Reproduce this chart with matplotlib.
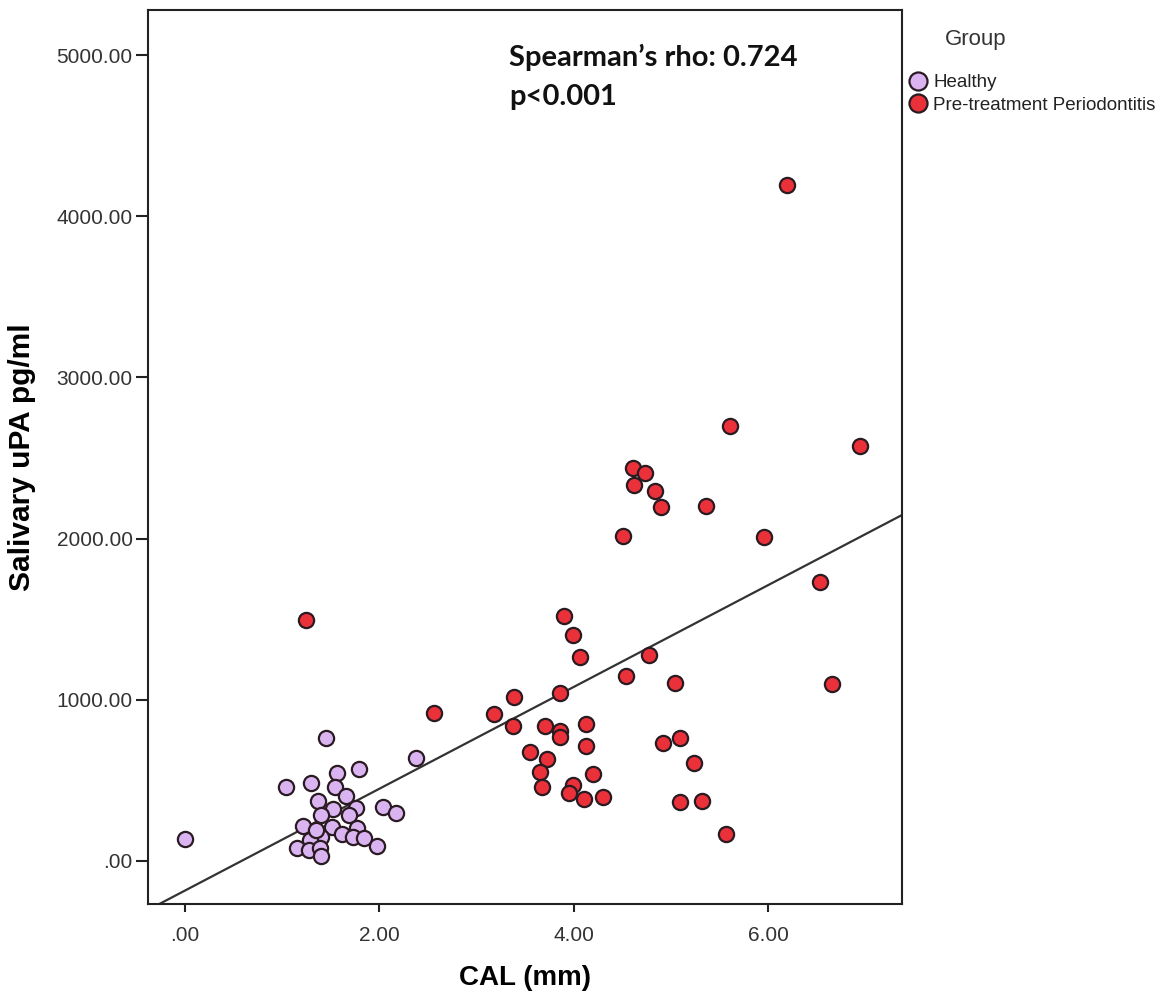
import numpy as np
import matplotlib
matplotlib.use("Agg")
import matplotlib.pyplot as plt
from matplotlib.lines import Line2D

# Clinical attachment level (mm) and salivary uPA (pg/ml) per subject
healthy_cal = [1.45, 2.38, 1.56, 1.79, 1.04, 1.30, 1.54, 1.66, 1.37, 1.76,
               1.52, 2.04, 2.17, 1.40, 1.69, 1.21, 1.51, 1.77, 1.61, 1.40,
               1.73, 1.84, 1.28, 0.00, 1.97, 1.15, 1.27, 1.39, 1.40, 1.35]
healthy_upa = [760, 636, 543, 567, 459, 480, 459, 402, 372, 325,
               319, 335, 294, 284, 284, 215, 211, 201, 164, 149,
               149, 139, 128, 133, 91, 77, 66, 77, 29, 191]

perio_cal = [5.61, 6.95, 4.61, 4.73, 4.62, 4.84, 4.90, 5.36, 4.51, 5.96,
             6.54, 3.90, 3.99, 4.06, 4.78, 4.54, 5.04, 6.66, 3.86, 3.39,
             3.18, 3.38, 3.70, 3.86, 3.86, 4.13, 4.13, 3.55, 4.92, 5.09,
             3.73, 3.65, 4.20, 5.24, 3.67, 3.99, 3.95, 4.11, 4.30, 5.09,
             5.32, 5.57, 1.24, 2.56, 6.20]
perio_upa = [2700, 2576, 2439, 2408, 2332, 2297, 2197, 2202, 2016, 2007,
             1728, 1519, 1401, 1263, 1277, 1148, 1105, 1097, 1043, 1018,
             911, 836, 838, 807, 766, 849, 714, 677, 732, 760,
             631, 552, 536, 605, 456, 470, 418, 383, 394, 363,
             371, 166, 1494, 915, 4194]

group_names = ["Healthy", "Pre-treatment Periodontitis"]
x_ticks = [0, 2, 4, 6]
x_tick_labels = [".00", "2.00", "4.00", "6.00"]
y_ticks = [0, 1000, 2000, 3000, 4000, 5000]
y_tick_labels = [".00", "1000.00", "2000.00", "3000.00", "4000.00", "5000.00"]

healthy_face = "#dab4f1"
perio_face = "#ea3038"
edge = "#2a1a22"

fig = plt.figure(figsize=(11.66, 10.01), dpi=100)
ax = fig.add_axes([148 / 1166, 1 - 904 / 1001, (902 - 148) / 1166, (904 - 10) / 1001])

ax.scatter(healthy_cal, healthy_upa, s=120, c=healthy_face, edgecolors=edge,
           linewidths=1.6, zorder=3)
ax.scatter(perio_cal, perio_upa, s=120, c=perio_face, edgecolors=edge,
           linewidths=1.6, zorder=3)

# Total-sample linear fit line
all_x = np.array(healthy_cal + perio_cal, dtype=float)
all_y = np.array(healthy_upa + perio_upa, dtype=float)
slope, intercept = np.polyfit(all_x, all_y, 1)
xl = np.array([-0.5, 7.6])
ax.plot(xl, intercept + slope * xl, color="#333333", lw=1.6, zorder=2)

ax.set_xlim(-0.383, 7.38)
ax.set_ylim(-269, 5281)

ax.set_xticks(x_ticks)
ax.set_xticklabels(x_tick_labels)
ax.set_yticks(y_ticks)
ax.set_yticklabels(y_tick_labels)

tick_family = ["Liberation Sans", "DejaVu Sans"]
for lab in ax.get_xticklabels() + ax.get_yticklabels():
    lab.set_fontfamily(tick_family)
    lab.set_fontsize(15)
    lab.set_color("#333333")
ax.tick_params(axis="x", direction="out", length=6, width=1.5, pad=10, color="#222222")
ax.tick_params(axis="y", direction="out", length=9, width=1.5, pad=2, color="#222222")

for sp in ax.spines.values():
    sp.set_linewidth(1.5)
    sp.set_color("#222222")

fig.text(525 / 1166, 1 - 978 / 1001, "CAL (mm)", ha="center", va="center",
         family=tick_family, weight="bold", size=20)
fig.text(22 / 1166, 1 - 457 / 1001, "Salivary uPA pg/ml", ha="center", va="center",
         rotation=90, family=tick_family, weight="bold", size=21.5)

ax.text(0.479, 0.962, "Spearman\u2019s rho: 0.724\np<0.001", transform=ax.transAxes,
        ha="left", va="top", family=["Lato", "DejaVu Sans"], weight="bold",
        fontsize=21, linespacing=1.6, color="#111111")

# Group legend at the right of the plot
fig.text(945 / 1166, 1 - 40 / 1001, "Group", ha="left", va="center",
         family=tick_family, fontsize=16, color="#333333")
handles = [
    Line2D([], [], ls="none", marker="o", ms=13, mfc=healthy_face, mec=edge, mew=1.6),
    Line2D([], [], ls="none", marker="o", ms=13, mfc=perio_face, mec=edge, mew=1.6),
]
leg = fig.legend(handles, group_names, loc="upper left",
                 bbox_to_anchor=(910 / 1166, 1 - 74 / 1001), frameon=False,
                 handlelength=0.9, handletextpad=0.35, labelspacing=0.3,
                 borderpad=0, borderaxespad=0,
                 prop=dict(family=tick_family, size=13.5))
for t in leg.get_texts():
    t.set_color("#222222")

fig.savefig("out.png", dpi=100)
